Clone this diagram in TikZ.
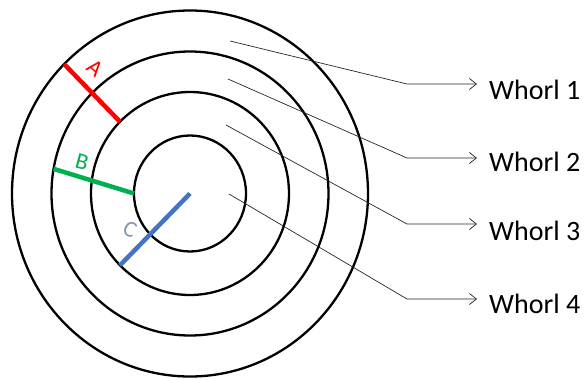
\documentclass[tikz,border=0pt]{standalone}
\usepackage{fontspec}
\setmainfont{Carlito}
\usetikzlibrary{arrows.meta}
\definecolor{cutRed}  {RGB}{255,  0,  0}
\definecolor{cutGreen}{RGB}{  0,176, 80}
\definecolor{cutBlue} {RGB}{ 68,114,196}
\definecolor{labGrey} {RGB}{132,151,176}

\begin{document}
\begin{tikzpicture}[x=1pt,y=1pt,
        ring/.style={draw=black,line width=2.3pt},
        cut/.style={line width=4.5pt},
        lbl/.style={font=\fontsize{23}{23}\selectfont,inner sep=0pt},
        ptr/.style={draw=black!85,line width=0.7pt,
                    -{Straight Barb[length=7pt,width=11pt]},shorten >=12pt},
        wh/.style={font=\fontsize{28}{28}\selectfont,inner sep=0pt,
                   anchor=base west}]

        \useasboundingbox (-190,-184.5) rectangle (398,193.5);

        % rings
        \foreach \rx/\ry in {178/183,138.5/142,99/101.5,56/58}{
          \draw[ring] (0,0) ellipse [x radius=\rx, y radius=\ry];
        }

        % cut lines
        \coordinate (o) at (0,0);
        \draw[cut,cutRed]   (135:99 and 101.5) -- (135:178 and 183);
        \draw[cut,cutGreen] (180:56 and 58) -- (170:138.5 and 142);
        \draw[cut,cutBlue]  (o) -- (225:99 and 101.5);

        \node[lbl,text=cutRed,rotate=-40]  (la) at (-95,125.5) {A};
        \node[lbl,text=cutGreen,rotate=-15](lb) at (-108,31.5) {B};
        \node[lbl,text=labGrey,rotate=-25] (lc) at (-60,-35.5) {C};

        % pointers
        \foreach \i/\sx/\sy/\ky/\by in {1/40/152.5/109.5/94.5,
                                        2/38/114.5/35.5/21.8,
                                        3/36/68.5/-30.5/-46.5,
                                        4/39/-0.5/-105.5/-119.8}{
          \coordinate (s\i) at (\sx,\sy);
          \coordinate (k\i) at (217,\ky);
          \node[wh] (w\i) at (299,\by) {Whorl \i};
          \draw[ptr] (s\i) -- (k\i) -- (k\i -| w\i.west);
        }
      \end{tikzpicture}
\end{document}
